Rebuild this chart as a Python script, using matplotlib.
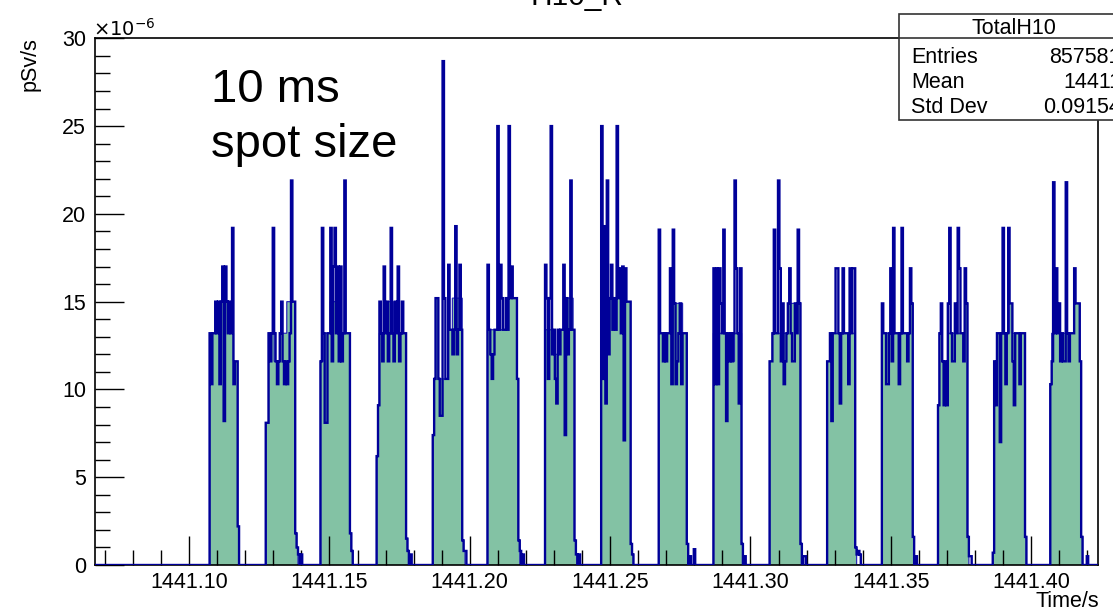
import numpy as np
import matplotlib.pyplot as plt
from matplotlib.ticker import MultipleLocator, FormatStrFormatter
from matplotlib.patches import Rectangle
from matplotlib.lines import Line2D

plt.rcParams['font.family'] = ['Liberation Sans', 'DejaVu Sans']

# histogram range / binning (time in s, dose rate in 1e-6 pSv/s)
x_lo, x_hi = 1441.0663, 1441.4238
bin_w = 0.0005

# start time of each 10 ms spot
pulse_start = [1441.1072, 1441.1271, 1441.1470, 1441.1666, 1441.1869, 1441.2065,
               1441.2268, 1441.2468, 1441.2671, 1441.2870, 1441.3066, 1441.3273,
               1441.3469, 1441.3668, 1441.3864, 1441.4067]

# fine (noisy) histogram, one list per spot
b1 = [13.2, 10.3, 13.2, 13.2, 15.0, 13.2, 15.0, 10.3, 15.0, 17.0, 8.2, 17.0, 15.0, 13.2, 15.0, 13.2, 19.2, 10.3, 11.6, 11.6, 2.2]
b2 = [8.1, 8.1, 13.2, 11.6, 13.2, 19.2, 13.2, 11.6, 10.3, 11.6, 13.2, 15.0, 11.6, 10.3, 11.6, 10.3, 11.6, 13.2, 21.9, 15.0, 15.0, 1.8, 1.0, 0.6, 0.0, 0.6]
b3 = [11.6, 19.2, 13.2, 8.1, 8.1, 13.2, 13.2, 19.2, 11.6, 17.0, 19.2, 13.2, 17.0, 11.6, 17.0, 11.6, 13.2, 21.9, 13.2, 13.2, 13.2, 1.8, 0.8]
b4 = [6.2, 9.1, 15.0, 13.2, 11.6, 17.0, 13.2, 15.0, 11.6, 13.2, 19.2, 13.2, 11.6, 15.0, 13.2, 17.0, 11.6, 13.2, 15.0, 13.2, 13.2, 1.5, 0.8, 0.0, 0.6]
b5 = [7.4, 10.6, 15.2, 15.2, 10.6, 8.5, 8.5, 28.7, 15.2, 10.6, 10.6, 17.1, 13.4, 13.4, 12.0, 13.4, 19.3, 12.0, 13.4, 17.1, 13.4, 1.4, 0.8, 0.8]
b6 = [17.1, 13.4, 12.0, 10.6, 12.0, 13.4, 13.4, 25.0, 13.4, 17.1, 15.2, 13.4, 13.4, 15.2, 13.4, 25.0, 15.2, 17.0, 15.2, 15.2, 15.2, 10.6, 1.4, 0.8, 0.0, 0.6]
b7 = [17.1, 15.2, 10.6, 15.2, 25.0, 12.0, 13.4, 10.6, 9.2, 13.4, 12.0, 13.4, 13.4, 17.1, 7.4, 15.2, 12.0, 13.4, 21.9, 13.4, 13.4, 1.4, 0.6, 0.0, 0.6]
b8 = [25.0, 10.6, 19.3, 9.2, 21.9, 12.0, 15.2, 17.1, 13.4, 15.2, 13.4, 25.0, 15.2, 16.9, 13.2, 17.0, 7.1, 16.9, 15.0, 15.0, 15.0, 1.2, 0.6]
b9 = [19.1, 13.2, 13.2, 11.6, 13.2, 11.6, 13.2, 13.2, 16.9, 10.3, 19.1, 14.9, 10.3, 11.6, 13.2, 14.9, 10.3, 13.2, 13.2, 13.2, 1.2, 0.0, 0.5, 0.0, 0.0, 0.9]
b10 = [16.9, 10.3, 16.9, 10.3, 16.9, 14.9, 13.2, 19.1, 13.2, 8.2, 13.2, 11.6, 13.2, 11.6, 13.2, 21.9, 16.9, 13.2, 9.2, 16.9, 1.2, 0.0, 0.5]
b11 = [11.6, 11.6, 13.2, 19.1, 13.2, 13.2, 21.9, 16.9, 11.6, 14.9, 10.3, 11.6, 13.2, 14.9, 16.9, 13.2, 11.6, 11.6, 14.9, 13.2, 19.1, 14.9, 1.2, 0.0, 0.5, 0.5]
b12 = [11.6, 11.6, 13.2, 8.2, 13.2, 13.2, 16.9, 16.9, 13.2, 9.2, 13.2, 16.9, 13.2, 13.2, 13.2, 10.3, 16.9, 13.2, 16.9, 16.9, 1.0, 0.6, 0.8, 0.6]
b13 = [14.9, 13.2, 13.2, 10.3, 10.3, 13.2, 16.9, 11.6, 19.2, 13.2, 13.2, 13.2, 10.3, 13.2, 19.2, 13.2, 13.2, 13.2, 11.6, 13.2, 16.9, 14.9, 1.6, 0.0, 0.5]
b14 = [9.1, 13.2, 14.9, 11.6, 9.1, 11.6, 9.1, 14.9, 19.2, 13.2, 11.6, 11.6, 14.9, 13.2, 19.2, 16.9, 13.2, 13.2, 11.6, 16.9, 14.9, 1.6, 0.5, 0.5]
b15 = [0.7, 11.6, 9.1, 13.2, 13.2, 7.0, 13.2, 19.2, 13.2, 10.3, 13.2, 19.2, 14.9, 14.9, 11.6, 9.1, 13.2, 13.2, 13.2, 10.3, 13.2, 13.2, 13.2, 1.6]
b16 = [10.3, 11.6, 21.8, 13.2, 16.9, 13.2, 14.9, 11.6, 13.2, 11.6, 11.6, 21.8, 13.2, 11.6, 13.2, 13.2, 13.2, 16.9, 14.9, 14.9, 14.9, 11.6, 1.6, 0.0, 0.0, 0.0, 0.5]

# smoother (filled) histogram, one list per spot
g1 = [13.2, 13.2, 13.2, 13.2, 13.2, 15.0, 15.0, 15.0, 15.0, 17.0, 17.0, 17.0, 15.0, 15.0, 13.2, 13.2, 13.2, 11.6, 11.6, 11.6, 2.2]
g2 = [8.1, 8.1, 13.2, 13.2, 13.2, 13.2, 11.6, 11.6, 11.6, 11.6, 13.2, 13.2, 13.2, 13.2, 13.2, 15.0, 15.0, 15.0, 15.0, 15.0, 15.0, 1.8, 1.0]
g3 = [11.6, 11.6, 13.2, 13.2, 13.2, 13.2, 13.2, 15.0, 15.0, 15.0, 15.0, 15.0, 15.0, 13.2, 13.2, 13.2, 13.2, 13.2, 13.2, 13.2, 13.2, 1.8, 0.8]
g4 = [6.2, 9.1, 13.2, 13.2, 13.2, 13.2, 13.2, 15.0, 15.0, 15.0, 15.0, 15.0, 13.2, 13.2, 13.2, 13.2, 13.2, 13.2, 13.2, 13.2, 13.2, 1.5, 0.8]
g5 = [7.4, 10.6, 15.2, 15.2, 10.6, 10.6, 10.6, 10.6, 10.6, 10.6, 10.6, 13.4, 13.4, 13.4, 15.2, 15.2, 15.2, 15.2, 15.2, 15.2, 15.2, 1.4, 0.8]
g6 = [13.4, 13.4, 13.4, 13.4, 13.4, 13.4, 13.4, 13.4, 13.4, 13.4, 13.4, 13.4, 13.4, 13.4, 15.2, 15.2, 15.2, 15.2, 15.2, 15.2, 15.2, 10.6, 1.4]
g7 = [13.4, 13.4, 13.4, 13.4, 13.4, 13.4, 12.0, 12.0, 12.0, 12.0, 12.0, 13.4, 13.4, 13.4, 13.4, 15.2, 15.2, 15.2, 15.2, 15.2, 13.4, 1.4, 0.6]
g8 = [13.4, 13.4, 13.4, 13.4, 13.4, 13.4, 15.2, 15.2, 15.2, 15.2, 15.2, 15.2, 15.2, 15.2, 15.2, 15.2, 15.0, 15.0, 15.0, 15.0, 15.0, 1.2, 0.6]
g9 = [13.2, 13.2, 13.2, 13.2, 13.2, 13.2, 13.2, 13.2, 13.2, 13.2, 14.9, 14.9, 14.9, 14.9, 14.9, 14.9, 14.9, 13.2, 13.2, 13.2, 1.2]
g10 = [13.2, 13.2, 13.2, 13.2, 13.2, 13.2, 13.2, 13.2, 13.2, 13.2, 13.2, 11.6, 11.6, 11.6, 11.6, 13.2, 13.2, 13.2, 13.2, 13.2, 1.2]
g11 = [11.6, 11.6, 13.2, 13.2, 13.2, 13.2, 13.2, 13.2, 13.2, 13.2, 13.2, 13.2, 13.2, 14.9, 14.9, 14.9, 14.9, 14.9, 14.9, 14.9, 14.9, 14.9, 1.2]
g12 = [11.6, 11.6, 13.2, 13.2, 13.2, 13.2, 13.2, 13.2, 13.2, 13.2, 13.2, 13.2, 13.2, 13.2, 13.2, 13.2, 13.2, 13.2, 13.2, 13.2, 1.0]
g13 = [13.2, 13.2, 13.2, 13.2, 13.2, 13.2, 13.2, 13.2, 13.2, 13.2, 13.2, 13.2, 13.2, 13.2, 13.2, 13.2, 13.2, 13.2, 13.2, 13.2, 14.9, 14.9, 1.6]
g14 = [9.1, 13.2, 13.2, 11.6, 11.6, 11.6, 11.6, 13.2, 13.2, 13.2, 13.2, 13.2, 13.2, 13.2, 13.2, 13.2, 13.2, 13.2, 13.2, 14.9, 14.9, 1.6]
g15 = [0.7, 11.6, 11.6, 13.2, 13.2, 13.2, 13.2, 13.2, 13.2, 13.2, 13.2, 13.2, 14.9, 14.9, 13.2, 13.2, 13.2, 13.2, 13.2, 13.2, 13.2, 13.2, 13.2, 1.6]
g16 = [10.3, 13.2, 13.2, 13.2, 14.9, 14.9, 14.9, 13.2, 13.2, 13.2, 13.2, 13.2, 13.2, 13.2, 13.2, 13.2, 13.2, 14.9, 14.9, 14.9, 14.9, 11.6, 1.6]

fine = [b1, b2, b3, b4, b5, b6, b7, b8, b9, b10, b11, b12, b13, b14, b15, b16]
smooth = [g1, g2, g3, g4, g5, g6, g7, g8, g9, g10, g11, g12, g13, g14, g15, g16]

stat_names = ['Entries', 'Mean', 'Std Dev']
stat_values = ['857581', '14411', '0.09154']

nbins = int(np.ceil((x_hi - x_lo) / bin_w))
edges = x_lo + bin_w * np.arange(nbins + 1)


def fill_hist(spots):
    h = np.zeros(nbins)
    for t0, vals in zip(pulse_start, spots):
        i = int(round((t0 - x_lo) / bin_w))
        h[i:i + len(vals)] = vals
    return h


h_fine = fill_hist(fine)
h_smooth = fill_hist(smooth)

W, H = 1113, 611
fig = plt.figure(figsize=(W / 100, H / 100), dpi=100)
ax = fig.add_axes([94.5 / W, 1 - 565 / H, (1098 - 94.5) / W, (565 - 38.3) / H])

ax.stairs(h_smooth, edges, fill=True, color='#83c2a4', zorder=1)
ax.stairs(h_smooth, edges, color='#2a2ab8', lw=0.9, zorder=2)
ax.stairs(h_fine, edges, color='#000099', lw=1.7, zorder=3)

ax.set_xlim(x_lo, x_hi)
ax.set_ylim(0, 30)
ax.xaxis.set_major_locator(MultipleLocator(0.05))
ax.xaxis.set_minor_locator(MultipleLocator(0.01))
ax.xaxis.set_major_formatter(FormatStrFormatter('%.2f'))
ax.yaxis.set_major_locator(MultipleLocator(5))
ax.yaxis.set_minor_locator(MultipleLocator(1))
ax.tick_params(which='both', direction='in', top=False, right=False, width=1, labelsize=15.5)
ax.tick_params(which='major', length=21)
ax.tick_params(which='minor', length=10.8)
ax.tick_params(axis='x', which='both', pad=5)
ax.tick_params(axis='y', which='both', pad=6)
for s in ax.spines.values():
    s.set_linewidth(1.2)
    s.set_color('black')

fig.text(93 / W, 1 - 36 / H, r'$\times10^{-6}$', fontsize=14, ha='left', va='baseline')
fig.text(30 / W, 1 - 37 / H, 'pSv/s', rotation=90, fontsize=15.5, ha='center', va='top')
fig.text(1099 / W, 1 - 607 / H, 'Time/s', fontsize=15.5, ha='right', va='baseline')
fig.text(577 / W, 1 - 5 / H, 'H10_R', fontsize=21.5, ha='center', va='baseline')

fig.text(211 / W, 1 - 102 / H, '10 ms', fontsize=34, ha='left', va='baseline')
fig.text(211 / W, 1 - 157 / H, 'spot size', fontsize=34, ha='left', va='baseline')

# statistics box (runs off the right edge, as in the original)
bx0, by0, bx1, by1 = 899, 14, 1130, 120
fig.patches.append(Rectangle((bx0 / W, 1 - by1 / H), (bx1 - bx0) / W, (by1 - by0) / H,
                             transform=fig.transFigure, facecolor='white',
                             edgecolor='#333333', lw=1.2, zorder=5))
fig.lines.append(Line2D([bx0 / W, bx1 / W], [1 - 38.3 / H, 1 - 38.3 / H],
                        transform=fig.transFigure, color='#333333', lw=1.2, zorder=6))
fig.text(1014 / W, 1 - 34 / H, 'TotalH10', fontsize=15.5, ha='center', va='baseline', zorder=7)
for k, (name, val) in enumerate(zip(stat_names, stat_values)):
    yb = 1 - (63 + 25 * k) / H
    fig.text(911 / W, yb, name, fontsize=15.5, ha='left', va='baseline', zorder=7)
    fig.text(1121 / W, yb, val, fontsize=15.5, ha='right', va='baseline', zorder=7)

fig.savefig('out.png', dpi=100)
